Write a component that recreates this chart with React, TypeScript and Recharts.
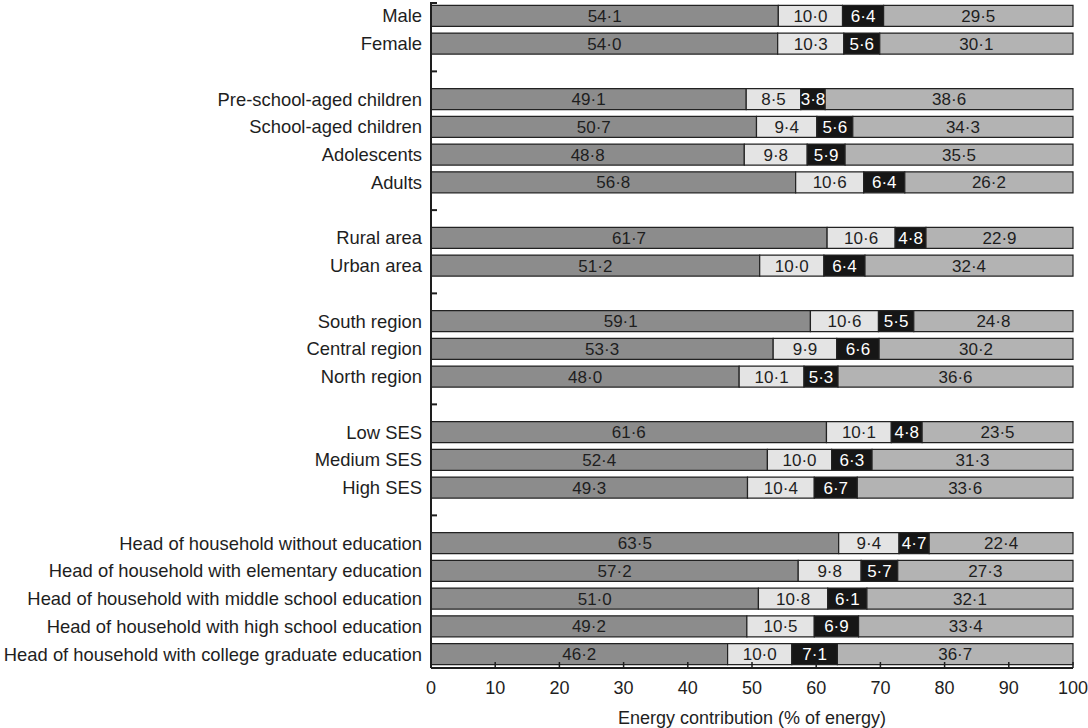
import React from "react";
import { BarChart, Bar, XAxis, YAxis, LabelList } from "recharts";

const categories = [
  "Male",
  "Female",
  "gap1",
  "Pre-school-aged children",
  "School-aged children",
  "Adolescents",
  "Adults",
  "gap2",
  "Rural area",
  "Urban area",
  "gap3",
  "South region",
  "Central region",
  "North region",
  "gap4",
  "Low SES",
  "Medium SES",
  "High SES",
  "gap5",
  "Head of household without education",
  "Head of household with elementary education",
  "Head of household with middle school education",
  "Head of household with high school education",
  "Head of household with college graduate education",
];

// null marks the blank separator rows
const seg1 = [54.1, 54.0, null, 49.1, 50.7, 48.8, 56.8, null, 61.7, 51.2, null, 59.1, 53.3, 48.0, null, 61.6, 52.4, 49.3, null, 63.5, 57.2, 51.0, 49.2, 46.2];
const seg2 = [10.0, 10.3, null, 8.5, 9.4, 9.8, 10.6, null, 10.6, 10.0, null, 10.6, 9.9, 10.1, null, 10.1, 10.0, 10.4, null, 9.4, 9.8, 10.8, 10.5, 10.0];
const seg3 = [6.4, 5.6, null, 3.8, 5.6, 5.9, 6.4, null, 4.8, 6.4, null, 5.5, 6.6, 5.3, null, 4.8, 6.3, 6.7, null, 4.7, 5.7, 6.1, 6.9, 7.1];
const seg4 = [29.5, 30.1, null, 38.6, 34.3, 35.5, 26.2, null, 22.9, 32.4, null, 24.8, 30.2, 36.6, null, 23.5, 31.3, 33.6, null, 22.4, 27.3, 32.1, 33.4, 36.7];

const xTicks = [0, 10, 20, 30, 40, 50, 60, 70, 80, 90, 100];

const data = categories.map((name, i) => ({
  name,
  s1: seg1[i],
  s2: seg2[i],
  s3: seg3[i],
  s4: seg4[i],
}));

const FONT = "'Liberation Sans', Arial, Helvetica, sans-serif";
const INK = "#1e1e1e";

const fmt = (v: any) => (v == null ? "" : Number(v).toFixed(1).replace(".", "·"));

const YTick = (props: any) => {
  const { x, y, payload, index } = props;
  const name: string = payload.value;
  const half = payload.offset ?? 14;
  const axisX = x + 8;
  return (
    <g>
      {index === 0 && (
        <line x1={axisX} x2={axisX + 6} y1={y - half + 1} y2={y - half + 1} stroke={INK} strokeWidth={2} />
      )}
      {name.startsWith("gap") ? (
        <line x1={axisX} x2={axisX + 6} y1={y} y2={y} stroke={INK} strokeWidth={2} />
      ) : (
        <text x={x - 1} y={y} dy="0.36em" textAnchor="end" fontSize={18.4} fill={INK} fontFamily={FONT}>
          {name}
        </text>
      )}
    </g>
  );
};

const segStyle = { stroke: "#222222", strokeWidth: 1.2 };

export default function App() {
  return (
    <div style={{ width: 1088, height: 728, background: "#fff" }}>
      <style>{"body{margin:0}"}</style>
      <BarChart
        width={1088}
        height={728}
        data={data}
        layout="vertical"
        margin={{ top: 2, right: 15, bottom: 0, left: 0 }}
        barCategoryGap="12%"
      >
        <XAxis
          type="number"
          domain={[0, 100]}
          ticks={xTicks}
          interval={0}
          height={60}
          tickSize={-6}
          tickMargin={19}
          axisLine={{ stroke: INK, strokeWidth: 2 }}
          tickLine={{ stroke: INK, strokeWidth: 1.5 }}
          tick={{ fontSize: 18, fill: INK, fontFamily: FONT }}
          label={{
            value: "Energy contribution (% of energy)",
            position: "insideBottom",
            offset: 4,
            fontSize: 18,
            fill: INK,
            fontFamily: FONT,
          }}
        />
        <YAxis
          type="category"
          dataKey="name"
          width={431}
          interval={0}
          tickLine={false}
          axisLine={{ stroke: INK, strokeWidth: 2 }}
          tick={<YTick />}
        />
        <Bar dataKey="s1" stackId="a" fill="#8c8c8c" {...segStyle} isAnimationActive={false}>
          <LabelList dataKey="s1" position="center" formatter={fmt} fill={INK} fontSize={17} fontFamily={FONT} />
        </Bar>
        <Bar dataKey="s2" stackId="a" fill="#e4e4e4" {...segStyle} isAnimationActive={false}>
          <LabelList dataKey="s2" position="center" formatter={fmt} fill={INK} fontSize={17} fontFamily={FONT} />
        </Bar>
        <Bar dataKey="s3" stackId="a" fill="#161616" {...segStyle} isAnimationActive={false}>
          <LabelList dataKey="s3" position="center" formatter={fmt} fill="#ffffff" fontSize={17} fontFamily={FONT} />
        </Bar>
        <Bar dataKey="s4" stackId="a" fill="#b3b3b3" {...segStyle} isAnimationActive={false}>
          <LabelList dataKey="s4" position="center" formatter={fmt} fill={INK} fontSize={17} fontFamily={FONT} />
        </Bar>
      </BarChart>
    </div>
  );
}
